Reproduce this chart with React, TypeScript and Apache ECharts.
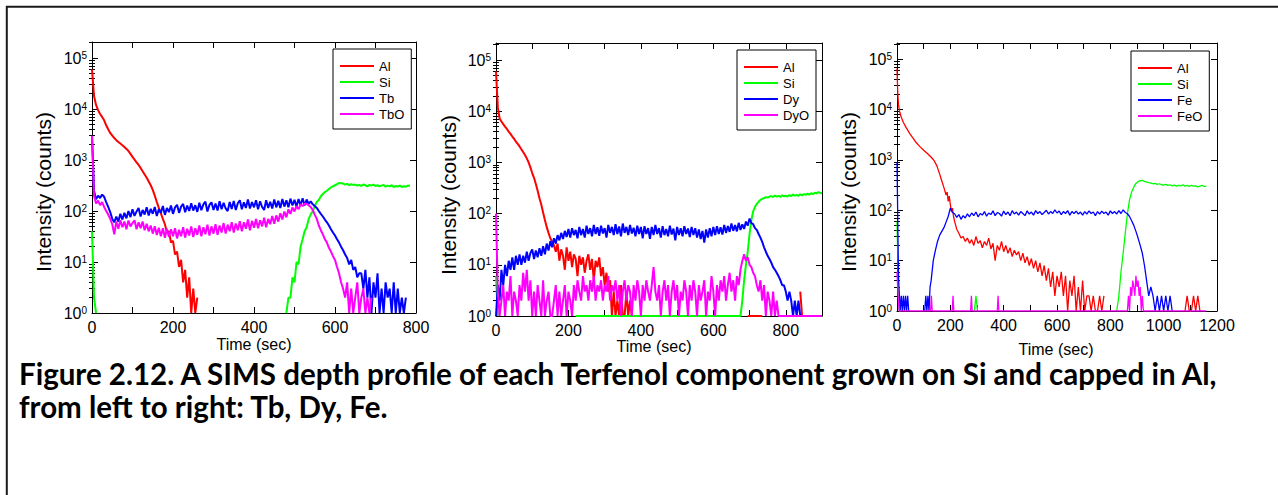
import { useEffect, useRef } from "react";
import * as echarts from "echarts";

type Pt = [number, number | null];

// ---------------- Panel 1 : Tb ----------------
const p1Names = ["Al", "Si", "Tb", "TbO"];
const p1Step = 5;
const p1Al = [60000, 18000, 12000, 9500, 8000, 7000, 6000, 4800, 4000, 3400, 3000, 2700, 2450, 2250, 2100, 1950, 1800, 1650, 1500, 1320, 1150, 1020, 900, 800, 700, 600, 520, 450, 380, 320, 260, 200, 150, 115, 90, 70, 55, 38, 40, 24, 26, 14, 16, 8, 11, 4, 7, 2, 5, 1, 3, 1, 2];
const p1SiA = [40, 2, 1];
const p1SiB = [1, 2, 2, 5, 4, 10, 9, 20, 28, 40, 48, 70, 85, 100, 125, 150, 165, 195, 215, 235, 250, 270, 290, 305, 320, 335, 355, 350, 345, 330, 340, 320, 335, 325, 330, 315, 325, 310, 330, 320, 305, 325, 315, 330, 310, 320, 305, 315, 325, 300, 315, 305, 320, 295, 310, 300, 315, 295, 305, 300, 315, 310];
const p1SiBStart = 480;
const p1Tb = [3000, 250, 170, 200, 180, 210, 190, 150, 120, 95, 70,
  60, 78, 62, 88, 68, 92, 72, 100, 76, 108, 80, 98, 115, 78, 105, 85, 118, 82, 110, 88, 120, 80, 108, 92, 125, 84, 115, 95, 128, 88, 118, 132, 92, 122, 138, 95, 128, 100, 142, 102, 130, 96, 145, 104, 135, 152, 98, 132, 148, 105, 140, 102, 155, 108, 145, 112, 100, 150, 110, 158, 105, 142, 162, 108, 148, 115, 168, 112, 150, 118, 162, 108, 155, 120, 105, 162, 115, 152, 112, 168, 118, 158, 115, 172, 122, 162, 118, 175, 128, 165, 122, 172, 130, 178, 128, 168, 138, 155, 135,
  125, 115, 100, 88, 78, 68, 60, 52, 44, 38, 33, 28, 24, 20, 17, 14, 12, 9, 11, 7, 8, 5, 6,
  6, 3, 7, 2, 5, 1, 4, 2, 6, 1, 3, 1, 4, 2, 3, 1, 4, 1, 3, 1, 2, 1, 2];
const p1TbO = [3000, 200, 140, 160, 130, 150, 120, 100, 85, 70, 55,
  35, 62, 45, 66, 48, 62, 44, 65, 50, 58, 66, 44, 60, 46, 62, 42, 56, 40, 52, 36, 50, 34, 47, 32, 46, 30, 45, 31, 44, 32, 46, 29, 43, 32, 48, 30, 45, 33, 50, 31, 46, 34, 52, 32, 48, 35, 54, 33, 50, 36, 55, 34, 52, 38, 58, 36, 54, 40, 60, 38, 57, 42, 63, 40, 60, 45, 68, 42, 64, 47, 70, 46, 66, 50, 74, 48, 70, 55, 80, 56, 82, 62, 90, 68, 98, 75,
  108, 88, 118, 98, 125, 108, 135, 125, 140, 138, 130, 120, 105, 85, 70, 52, 42, 35, 28, 24, 19, 16, 13, 11, 8, 6, 4, 3, 2, 4, 1, 3, 1, 2, 4, 1, 2, 3, 1, 2, 1, 2];

// ---------------- Panel 2 : Dy ----------------
const p2Names = ["Al", "Si", "Dy", "DyO"];
const p2Step = 5;
const p2Al = [60000, 12000, 7200, 6300, 5600, 5000, 4500, 4000, 3600, 3200, 2900, 2550, 2300, 2050, 1800, 1600, 1400, 1200, 1000, 800, 620, 500, 380, 280, 200, 150, 105, 75, 55, 42, 33, 28, 24, 18, 26, 12, 20, 15, 8, 22, 12, 18, 9, 16, 13, 6, 15, 10, 14, 7, 12, 16, 8, 13, 5, 12, 9, 14, 6, 9, 4, 7, 3, 5, 1, 3, 1, 2, 1, 4, 1, 1, 3, 1, 2, 1];
const p2AlB = [1, 1, 1, 1, 1, 1, 1, 1, 1];
const p2AlBStart = 695;
const p2AlC = [3, 1];
const p2AlCStart = 840;
const p2SiA = [6, 1];
const p2SiBase: Pt[] = [[220, 1], [670, 1]];
const p2SiRise = [1, 1, 2, 5, 10, 18, 40, 75, 110, 135, 155, 170, 185, 195, 200, 210, 205, 215, 220, 210, 225, 215, 222, 212, 228, 218, 225, 215, 230, 220, 235, 225, 232, 222, 238, 228, 240, 232, 245, 235, 250, 240, 255, 248, 262, 255, 250];
const p2SiRiseStart = 670;
const p2Dy = [1, 4, 2, 8, 4, 10, 6, 12, 8, 14, 8, 15, 10, 16, 10, 15, 11, 18, 12, 17, 20, 13, 19, 14, 21, 15, 23, 16, 26, 19, 29, 22, 33, 26, 38, 30, 42, 32, 46, 35, 50, 34, 52, 38, 48, 33, 55, 38, 50, 34, 58, 40, 52, 36, 60, 40, 54, 37, 58, 41, 52, 34, 60, 42, 55, 38, 62, 40, 56, 36, 64, 42, 55, 38, 60, 41, 53, 36, 58, 40, 55, 33, 57, 40, 52, 32, 55, 38, 60, 40, 52, 34, 57, 38, 50, 36, 58, 39, 51, 30, 55, 38, 52, 36, 57, 40, 51, 35, 55, 38, 52, 34, 49, 32, 46, 27, 49, 34, 52, 36, 55, 38, 57, 40, 54, 39, 60, 42, 57, 44, 64, 46, 60, 45, 66, 48, 62, 50, 70, 58, 80, 65, 62, 52, 48, 40, 34, 28, 22, 18, 15, 13, 11, 9, 8, 7, 6, 5, 4, 4, 3, 2, 3, 2, 1, 2, 1, 2, 1];
const p2DyO = [100, 3, 1, 2, 4, 1, 3, 2, 6, 1, 3, 2, 1, 4, 2, 7, 3, 8, 2, 5, 1, 3, 1, 4, 2, 1, 5, 1, 2, 3, 1, 1, 2, 4, 1, 3, 1, 2, 4, 1, 3, 2, 1, 4, 2, 5, 3, 2, 6, 3, 4, 2, 5, 3, 6, 2, 4, 3, 5, 2, 4, 3, 6, 2, 4, 3, 5, 2, 4, 1, 3, 5, 2, 4, 3, 1, 4, 2, 5, 3, 1, 4, 2, 5, 3, 2, 4, 9, 3, 2, 4, 1, 3, 5, 2, 4, 1, 3, 5, 2, 4, 1, 3, 2, 5, 3, 1, 4, 2, 5, 3, 1, 4, 2, 3, 5, 1, 3, 2, 6, 3, 1, 4, 2, 5, 3, 6, 2, 4, 7, 3, 5, 2, 6, 4, 8, 12, 16, 12, 14, 10, 9, 7, 6, 4, 3, 5, 2, 4, 1, 3, 2, 1, 3, 1, 2, 1];
const p2DyOTail: Pt[] = [[785, 1], [900, 1]];

// ---------------- Panel 3 : Fe ----------------
const p3Names = ["Al", "Si", "Fe", "FeO"];
const p3Step = 8;
const p3AlHead: Pt[] = [[0, 65000], [3, 20000], [6, 12000], [10, 9000], [16, 7000], [24, 5500], [35, 4300], [48, 3300], [60, 2700], [72, 2200], [85, 1850], [100, 1550], [115, 1320], [130, 1100], [140, 950], [150, 750], [160, 520], [168, 380], [176, 280], [184, 200], [188, 230], [192, 150], [196, 190], [200, 130], [204, 95], [208, 110], [212, 75]];
const p3AlTail = [60, 42, 35, 28, 30, 24, 28, 22, 26, 20, 30, 22, 25, 18, 24, 20, 28, 17, 22, 10, 20, 16, 24, 15, 20, 14, 18, 12, 16, 13, 15, 10, 14, 9, 12, 8, 11, 7, 10, 6, 9, 5, 8, 4, 7, 3, 6, 2, 5, 3, 6, 2, 5, 1, 4, 2, 5, 1, 3, 1, 4, 1, 2];
const p3AlTailStart = 216;
const p3AlSparseA = [2, 1, 2, 1, 1, 2, 1, 2];
const p3AlSparseAStart = 720;
const p3AlSparseB = [1, 2, 1, 1, 2, 1, 2, 1];
const p3AlSparseBStart = 1080;
const p3SiHead: Pt[] = [[0, 60], [3, 12], [6, 3], [9, 1], [14, 1]];
const p3SiBlip: Pt[] = [[290, 1], [296, 2], [302, 1]];
const p3SiRise = [1, 2, 6, 14, 35, 85, 160, 230, 290, 340, 370, 385, 390, 372, 360, 352, 345, 335, 340, 325, 335, 320, 315, 325, 310, 320, 305, 315, 300, 312, 305, 318, 300, 310, 295, 312, 300, 305, 290, 300, 310, 295, 300];
const p3SiRiseStart = 824;
const p3FeHead: Pt[] = [[0, 900], [2, 150], [4, 20], [6, 4], [9, 2], [12, 1], [16, 2], [20, 1], [24, 2], [28, 1], [32, 2], [36, 1], [40, 2], [44, 1]];
const p3FeBlip: Pt[] = [[104, 1], [108, 2], [112, 1], [116, 2], [120, 1], [124, 3]];
const p3Fe = [4, 10, 16, 24, 32, 38, 45, 58, 75, 110, 90, 85, 72, 82, 66, 78, 70, 85, 74, 88, 78, 92, 74, 86, 80, 94, 76, 88, 82, 97, 78, 90, 86, 76, 96, 82, 92, 78, 98, 84, 92, 80, 94, 86, 78, 97, 84, 92, 80, 98, 86, 94, 82, 90, 100, 84, 94, 86, 102, 88, 96, 82, 94, 86, 98, 80, 94, 86, 96, 84, 92, 80, 94, 84, 97, 86, 92, 78, 94, 84, 96, 86, 92, 80, 97, 86, 94, 84, 98, 86, 102, 90, 85, 75, 62, 50, 38, 28, 20, 14, 8, 4, 2, 3, 2, 1, 2, 1, 2, 1, 2, 1, 2, 1];
const p3FeStart = 128;
const p3FeOHead: Pt[] = [[0, 6], [4, 2], [8, 1], [126, 1], [129, 2], [132, 1], [207, 1], [210, 2], [213, 1], [276, 1], [279, 2], [282, 1], [376, 1], [379, 2], [382, 1], [864, 1]];
const p3FeOPeak = [2, 1, 3, 2, 4, 3, 2, 5, 3, 4, 2, 3, 1, 2, 1];
const p3FeOPeakStart = 868;
const p3FeOTail: Pt[] = [[928, 1], [1160, 1]];

// ---------------- axis ticks ----------------
const yMajor = [1, 10, 100, 1000, 10000, 100000];
const yMinorFactors = [2, 3, 4, 5, 6, 7, 8, 9];

const seg = (start: number, step: number, vals: number[]): Pt[] =>
  vals.map((v, i) => [start + i * step, v] as Pt);
const gap = (t: number): Pt => [t, null];

const FONT = "'Liberation Sans', Arial, Helvetica, sans-serif";
const CAPTION_FONT = "Lato, 'Open Sans', sans-serif";
const colorOf: Record<string, string> = {
  Al: "#ff0000", Si: "#00ff00", Tb: "#0000ff", Dy: "#0000ff", Fe: "#0000ff",
  TbO: "#ff00ff", DyO: "#ff00ff", FeO: "#ff00ff",
};

export default function App() {
  const ref = useRef<HTMLDivElement>(null);
  useEffect(() => {
    if (!ref.current) return;
    const chart = echarts.init(ref.current, undefined, { renderer: "svg" });

    const p1Data: Pt[][] = [
      seg(0, p1Step, p1Al),
      [...seg(0, p1Step, p1SiA), gap(14), ...seg(p1SiBStart, p1Step, p1SiB)],
      seg(0, p1Step, p1Tb),
      seg(0, p1Step, p1TbO),
    ];
    const p2Data: Pt[][] = [
      [...seg(0, p2Step, p2Al), gap(380), ...seg(p2AlBStart, p2Step, p2AlB), gap(800), ...seg(p2AlCStart, p2Step, p2AlC)],
      [...seg(0, p2Step, p2SiA), gap(100), ...p2SiBase, ...seg(p2SiRiseStart, p2Step, p2SiRise)],
      seg(0, p2Step, p2Dy),
      [...seg(0, p2Step, p2DyO), ...p2DyOTail],
    ];
    const p3Data: Pt[][] = [
      [...p3AlHead, ...seg(p3AlTailStart, p3Step, p3AlTail), ...seg(p3AlSparseAStart, p3Step, p3AlSparseA), gap(900), ...seg(p3AlSparseBStart, p3Step, p3AlSparseB)],
      [...p3SiHead, gap(100), ...p3SiBlip, gap(500), ...seg(p3SiRiseStart, p3Step, p3SiRise)],
      [...p3FeHead, gap(80), ...p3FeBlip, ...seg(p3FeStart, p3Step, p3Fe)],
      [...p3FeOHead, ...seg(p3FeOPeakStart, 4, p3FeOPeak), ...p3FeOTail],
    ];

    const panels = [
      { names: p1Names, data: p1Data, grid: { left: 92, top: 42, width: 324, height: 271 }, xMax: 800, yMax: 2.06e5, lw: 2, legend: { left: 333, top: 49 }, yTitle: [43, 192], xTitle: [254, 344] },
      { names: p2Names, data: p2Data, grid: { left: 496, top: 43, width: 326, height: 273 }, xMax: 900, yMax: 2.15e5, lw: 2, legend: { left: 737, top: 50 }, yTitle: [448, 195], xTitle: [654, 346] },
      { names: p3Names, data: p3Data, grid: { left: 897, top: 43, width: 320, height: 268 }, xMax: 1200, yMax: 2.08e5, lw: 1.3, legend: { left: 1131, top: 51 }, yTitle: [848, 192], xTitle: [1056, 349] },
    ];

    const grids: any[] = [];
    const xAxes: any[] = [];
    const yAxes: any[] = [];
    const series: any[] = [];
    const legends: any[] = [];
    const graphics: any[] = [];

    const axisLineStyle = { color: "#000", width: 1 };

    panels.forEach((p, g) => {
      grids.push({ ...p.grid, show: false, outerBoundsMode: "none", containLabel: false });
      const minor: number[] = [];
      for (const d of yMajor) for (const k of yMinorFactors) if (k * d <= p.yMax) minor.push(k * d);

      const xBase = {
        type: "value", gridIndex: g, min: 0, max: p.xMax, interval: 100,
        splitLine: { show: false },
        axisLine: { show: true, onZero: false, lineStyle: axisLineStyle },
        axisTick: { show: true, inside: true, length: 6, lineStyle: axisLineStyle },
      };
      xAxes.push({
        ...xBase, position: "bottom",
        axisLabel: {
          show: true, margin: 6, color: "#000", fontFamily: FONT, fontSize: 16, lineHeight: 16,
          formatter: (v: number) => (v % 200 === 0 ? String(v) : ""),
        },
      });
      xAxes.push({ ...xBase, position: "top", axisLabel: { show: false } });

      const yBase = {
        type: "log", logBase: 10, gridIndex: g, min: 1, max: p.yMax, offset: 0,
        splitLine: { show: false }, minorTick: { show: false }, minorSplitLine: { show: false },
      };
      yAxes.push({
        ...yBase, position: "left",
        axisLine: { show: true, onZero: false, lineStyle: axisLineStyle },
        axisTick: { show: true, inside: true, length: 6, customValues: yMajor, lineStyle: axisLineStyle },
        axisLabel: {
          show: true, customValues: yMajor, margin: 5, color: "#000", fontFamily: FONT, fontSize: 16,
          formatter: (v: number) => `{b|10}{s|${Math.round(Math.log10(v))}}`,
          rich: {
            b: { fontFamily: FONT, fontSize: 16, color: "#000" },
            s: { fontFamily: FONT, fontSize: 10, color: "#000", verticalAlign: "top" },
          },
        },
      });
      yAxes.push({
        ...yBase, position: "right",
        axisLine: { show: true, onZero: false, lineStyle: axisLineStyle },
        axisTick: { show: true, inside: true, length: 6, customValues: yMajor, lineStyle: axisLineStyle },
        axisLabel: { show: false },
      });
      yAxes.push({
        ...yBase, position: "left",
        axisLine: { show: false },
        axisTick: { show: true, inside: true, length: 3, customValues: minor, lineStyle: axisLineStyle },
        axisLabel: { show: false },
      });
      yAxes.push({
        ...yBase, position: "right",
        axisLine: { show: false },
        axisTick: { show: true, inside: true, length: 3, customValues: minor, lineStyle: axisLineStyle },
        axisLabel: { show: false },
      });

      p.names.forEach((name, i) => {
        series.push({
          type: "line", name, data: p.data[i], xAxisIndex: 2 * g, yAxisIndex: 4 * g,
          symbol: "none", showSymbol: false, connectNulls: false, clip: true, silent: true,
          color: colorOf[name],
          lineStyle: { color: colorOf[name], width: p.lw },
          emphasis: { disabled: true },
          z: 2 + i,
        });
      });

      legends.push({
        show: true, data: p.names, orient: "vertical", left: p.legend.left, top: p.legend.top,
        icon: "rect", itemWidth: 34, itemHeight: 2, itemGap: 2,
        padding: [10, 7, 8, 7], borderColor: "#000", borderWidth: 1, borderRadius: 0,
        backgroundColor: "#fff", selectedMode: false,
        textStyle: { fontFamily: FONT, fontSize: 13, color: "#000", lineHeight: 14 },
      });

      graphics.push({
        type: "text", x: p.yTitle[0], y: p.yTitle[1], rotation: Math.PI / 2,
        style: { text: "Intensity (counts)", fontFamily: FONT, fontSize: 21, fill: "#000", align: "center", verticalAlign: "middle" },
      });
      graphics.push({
        type: "text", x: p.xTitle[0], y: p.xTitle[1],
        style: { text: "Time (sec)", fontFamily: FONT, fontSize: 16, lineHeight: 16, fill: "#000", align: "center", verticalAlign: "middle" },
      });
    });

    graphics.push({ type: "line", shape: { x1: 6, y1: 6.8, x2: 1278, y2: 6.8 }, style: { stroke: "#1a1a1a", lineWidth: 2 } });
    graphics.push({ type: "line", shape: { x1: 6.8, y1: 6, x2: 6.8, y2: 495 }, style: { stroke: "#1a1a1a", lineWidth: 2 } });
    graphics.push({
      type: "text", x: 19, y: 373,
      style: { text: "Figure 2.12. A SIMS depth profile of each Terfenol component grown on Si and capped in Al,", fontFamily: CAPTION_FONT, fontWeight: "bold", fontSize: 29.5, lineHeight: 24, fill: "#000", align: "left", verticalAlign: "middle" },
    });
    graphics.push({
      type: "text", x: 19, y: 406,
      style: { text: "from left to right: Tb, Dy, Fe.", fontFamily: CAPTION_FONT, fontWeight: "bold", fontSize: 29.5, lineHeight: 24, fill: "#000", align: "left", verticalAlign: "middle" },
    });

    chart.setOption({
      animation: false,
      backgroundColor: "#fff",
      grid: grids,
      xAxis: xAxes,
      yAxis: yAxes,
      legend: legends,
      series,
      graphic: graphics,
    });
    return () => chart.dispose();
  }, []);

  return (
    <div
      ref={ref}
      style={{ position: "absolute", left: 0, top: 0, width: 1278, height: 495, background: "#fff" }}
    />
  );
}
